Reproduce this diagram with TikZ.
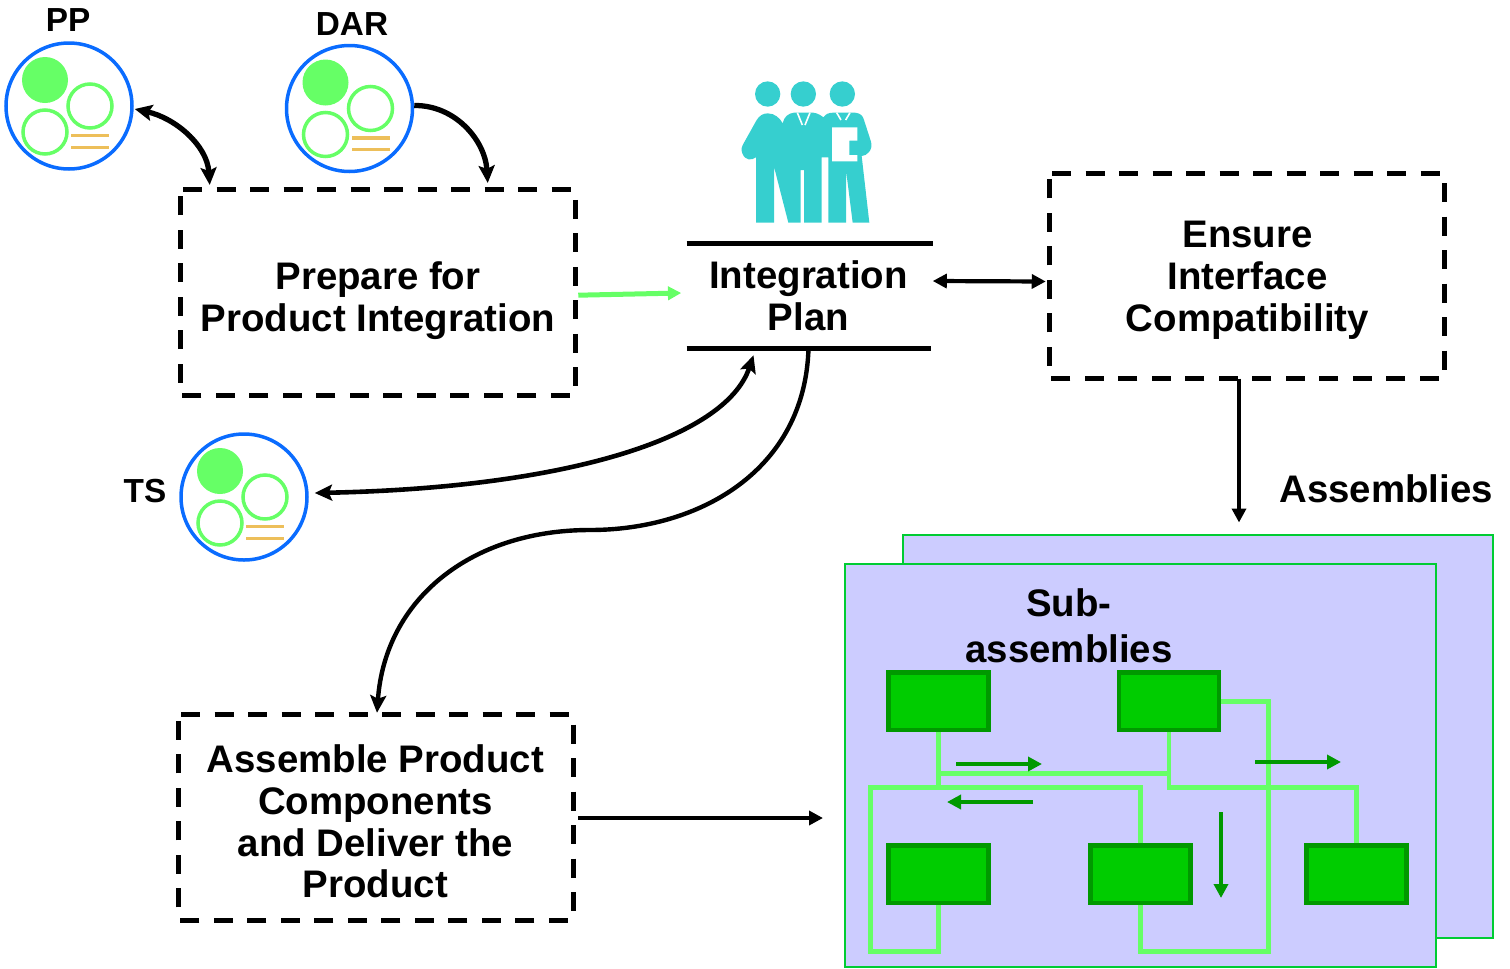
\documentclass[tikz,border=0pt]{standalone}
\usepackage{fontspec}
\setmainfont{Liberation Sans}
\usetikzlibrary{arrows.meta,calc}
\definecolor{ltgreen}{HTML}{66FF66}
\definecolor{midgreen}{HTML}{00CC00}
\definecolor{dkgreen}{HTML}{009900}
\definecolor{lav}{HTML}{CCCCFF}
\definecolor{edge}{HTML}{00CC33}
\definecolor{teal}{HTML}{36CFCF}
\definecolor{blueline}{HTML}{0A6CFF}
\definecolor{gold}{HTML}{EDBF5A}
\tikzset{
  px/.style={line width=#1*0.75pt},
  bigfont/.style={font=\fontsize{28.8pt}{31.3pt}\selectfont\bfseries},
  lab/.style={bigfont,align=center,inner sep=0pt},
  smalllab/.style={font=\fontsize{25pt}{28pt}\selectfont\bfseries,inner sep=0pt},
  boxarea/.style={minimum width=295.5pt,minimum height=153.75pt,inner sep=0pt},
  dashline/.style={draw=black,px=5,line join=miter,dash pattern=on 14.25pt off 10.875pt,dash phase=23.25pt},
  pkgcircle/.style={circle,draw=blueline,px=3.5,fill=white,minimum size=94.5pt,inner sep=0pt},
  part/.style={draw=dkgreen,px=4.6,fill=midgreen,minimum width=75pt,minimum height=43pt,inner sep=0pt},
  wire/.style={draw=ltgreen,px=4.8,line join=miter},
  small/.style={draw=dkgreen,px=4.7,-{Stealth[length=10.5pt,width=10.5pt,inset=0pt]}},
  conn/.style={draw=black,px=5.3,line cap=butt},
  one/.style={conn,-{Stealth[length=13pt,width=12pt,inset=2.5pt]}},
  two/.style={conn,{Stealth[length=13pt,width=12pt,inset=2.5pt]}-{Stealth[length=13pt,width=12pt,inset=2.5pt]}},
  straight/.style={draw=black,px=4.6,-{Stealth[length=10.5pt,width=10.5pt,inset=0pt]}},
  straighttwo/.style={draw=black,px=4.2,{Stealth[length=10.5pt,width=10.5pt,inset=0pt]}-{Stealth[length=10.5pt,width=10.5pt,inset=0pt]}},
  pkginner/.pic={
    \fill[ltgreen] (-24,-26) circle (23);
    \draw[ltgreen,px=3.5] (21,0) circle (22);
    \draw[ltgreen,px=3.5] (-24,26) circle (22);
    \fill[gold] (2,27.5) rectangle (40,31);
    \fill[gold] (2,39.5) rectangle (40,42.5);
  }
}
\begin{document}
\begin{tikzpicture}[x=0.75pt,y=-0.75pt]
\useasboundingbox (0,0) rectangle (1510,968);
% packages
\node[pkgcircle] (pp) at (69,106) {};
\pic at (69,106) {pkginner};
\node[pkgcircle] (dar) at (349.5,108.5) {};
\pic at (349.5,108.5) {pkginner};
\node[pkgcircle] (ts) at (244,497) {};
\pic at (244,497) {pkginner};
\node[smalllab] (pplab) at (68,20) {PP};
\node[smalllab] (darlab) at (352,24) {DAR};
\node[smalllab] (tslab) at (145,491) {TS};
% boxes
\node[boxarea] (prep) at (378,292.7) {};
\node[lab] (preptext) at (378,300.5) {Prepare for\\Product Integration};
\node[boxarea] (ens) at (1247,276) {};
\node[lab] (enstext) at (1247.5,280.3) {Ensure\\Interface\\Compatibility};
\node[boxarea] (asm) at (376,817.5) {};
\node[lab] (asmtext) at (375.5,821.5) {Assemble Product\\Components\\and Deliver the\\Product};
\draw[dashline] (prep.north west) -- (prep.north east) -- (prep.south east) -- (prep.south west) -- cycle;
\draw[dashline] (ens.north west) -- (ens.north east) -- (ens.south east) -- (ens.south west) -- cycle;
\draw[dashline] (asm.north west) -- (asm.north east) -- (asm.south east) -- (asm.south west) -- cycle;
% integration plan
\node[lab,minimum width=183pt,minimum height=78.75pt] (ip) at (808.5,295.5) {Integration\\Plan};
\draw[black,px=4.6] ($(ip.north west)+(0.5,0.5)$) -- ($(ip.north east)+(2,0.5)$);
\draw[black,px=4.6] ($(ip.south west)+(0.5,0)$) -- (ip.south east);
% people icon
\begin{scope}[shift={(720,70)},x=0.25pt,y=-0.25pt]
\fill[teal] (143,72) circle (38) (250,72) circle (38) (367,72) circle (38);
\fill[teal] (143,130) .. controls (165,130) and (180,145) .. (188,160)
  .. controls (192,140) and (205,130) .. (222,128) -- (280,128) .. controls (295,130) and (305,138) .. (310,142)
  .. controls (318,132) and (325,128) .. (340,128) -- (405,128) .. controls (420,130) and (428,135) .. (432,150)
  -- (453,215) .. controls (460,240) and (440,258) .. (425,258) -- (448,458) -- (398,458) -- (378,300) -- (378,458) -- (325,458) -- (325,262) -- (305,262) -- (305,458) -- (252,458) -- (252,300) -- (242,300) -- (242,458) -- (205,458) -- (162,290) -- (162,458) -- (108,458) -- (108,262)
  .. controls (95,272) and (75,272) .. (67,250) .. controls (62,238) and (65,230) .. (72,218) -- (110,150) .. controls (118,138) and (128,130) .. (143,130) -- cycle;
\fill[white] (336,172) -- (412,172) -- (412,212) -- (388,212) -- (388,255) -- (412,255) -- (412,274) -- (336,274) -- cycle;
\draw[white,px=1.6] (232,128) -- (247,165) (270,128) -- (255,165);
\draw[white,px=1.6] (350,128) -- (363,150) (390,128) -- (377,150);
\end{scope}
% sub-assemblies panels
\node[draw=edge,px=2,fill=lav,minimum width=442.5pt,minimum height=302.25pt,inner sep=0pt] (back) at (1198,736.5) {};
\node[draw=edge,px=2,fill=lav,minimum width=443.25pt,minimum height=302.25pt,inner sep=0pt] (front) at (1140.5,765.5) {};
\node[lab] (assm) at (1386,489) {Assemblies};
\node[lab,font=\fontsize{28.8pt}{34.5pt}\selectfont\bfseries] (subl) at (1069,626) {Sub-\\assemblies};
% parts
\node[part] (b1) at (938.5,701.4) {};
\node[part] (b2) at (1169,701.4) {};
\node[part] (b3) at (938.5,874.2) {};
\node[part] (b4) at (1140.5,874.2) {};
\node[part] (b5) at (1356.5,874.2) {};
% wires
\draw[wire] (b1.south) -- ++(0,58);
\draw[wire] ($(b1.south)+(0,41)$) -| (b2.south);
\draw[wire] (b2.south) |- ($(b5.north)+(0,-56)$) -- (b5.north);
\draw[wire] (b2.east) -| ++(47,250) -| (b4.south);
\draw[wire] (b4.north) |- ++(-270,-56) |- ++(0,164) -| (b3.south);
% small arrows
\coordinate (s1a) at (956,764); \coordinate (s1b) at (1042,764);
\coordinate (s2a) at (1033,802); \coordinate (s2b) at (947,802);
\coordinate (s3a) at (1255,762); \coordinate (s3b) at (1341,762);
\coordinate (s4a) at (1221,812); \coordinate (s4b) at (1221,898);
\draw[small] (s1a) -- (s1b);
\draw[small] (s2a) -- (s2b);
\draw[small] (s3a) -- (s3b);
\draw[small] (s4a) -- (s4b);
% connectors
\draw[two] ($(pp.east)+(1,3)$) .. controls (175,118) and (207,145) .. ($(prep.north west)+(29,-5)$);
\draw[one] (dar.east) ++(0,-3) .. controls (455,105) and (485,140) .. ($(prep.north west)+(307,-7)$);
\draw[draw=ltgreen,px=5,-{Stealth[length=10pt,width=10pt,inset=0pt]}] ($(prep.east)+(3,2.5)$) -- ($(ip.west)+(-5,-2.5)$);
\draw[straighttwo] ($(ip.east)+(2,-14.5)$) -- ($(ens.west)+(-4,5.5)$);
\coordinate (enssrc) at (1239,378.5);
\coordinate (ensdst) at (1239,522.5);
\draw[straight] (enssrc) -- (ensdst);
\coordinate (asmin) at (823,818);
\draw[straight] (asm.east) ++(5,0.5) -- (asmin);
\draw[two,px=4.6] ($(ip.south)+(-55,7)$) .. controls (725,440) and (560,488) .. ($(ts.east)+(6,-4)$);
\draw[one,px=4.4] (ip.south) .. controls (805,470) and (700,530) .. (590,530) .. controls (470,530) and (385,600) .. ($(asm.north)+(1,-2)$);
\end{tikzpicture}
\end{document}
